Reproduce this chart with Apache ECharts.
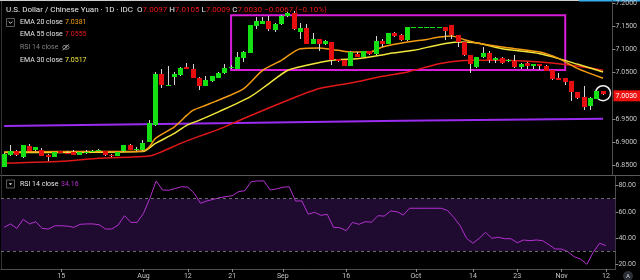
<!DOCTYPE html>
<html><head><meta charset="utf-8">
<script src="https://cdn.jsdelivr.net/npm/echarts@6/dist/echarts.min.js"></script>
<style>html,body{margin:0;padding:0;background:#000;overflow:hidden}#c{width:640px;height:280px}</style>
</head><body><div id="c"></div>
<script>
// ---------- data ----------
const categories = [
 '07-02','07-03','07-04','07-05','07-08','07-09','07-10','07-11','07-12','07-15','07-16','07-17','07-18','07-19','07-22','07-23','07-24','07-25','07-26','07-29','07-30','07-31',
 '08-01','08-02','08-05','08-06','08-07','08-08','08-09','08-12','08-13','08-14','08-15','08-16','08-19','08-20','08-21','08-22','08-23','08-26','08-27','08-28','08-29','08-30',
 '09-02','09-03','09-04','09-05','09-06','09-09','09-10','09-11','09-12','09-13','09-16','09-17','09-18','09-19','09-20','09-23','09-24','09-25','09-26','09-27','09-30',
 '10-01','10-02','10-03','10-04','10-07','10-08','10-09','10-10','10-11','10-14','10-15','10-16','10-17','10-18','10-21','10-22','10-23','10-24','10-25','10-28','10-29','10-30','10-31',
 '11-01','11-04','11-05','11-06','11-07','11-08','11-11','11-12','11-13'];
const tickLabels = {'07-15':'15','08-01':'Aug','08-12':'12','08-21':'21','09-02':'Sep','09-16':'16','10-01':'Oct','10-14':'14','10-23':'23','11-01':'Nov','11-12':'12'};

const opens = [6.8457,6.8716,6.8809,6.8673,6.8917,6.8818,6.8824,6.8723,6.8673,6.8803,6.8770,6.8781,6.8723,6.8772,6.8792,6.8825,6.8796,6.8720,6.8701,6.8796,6.8939,6.8840,
 6.8818,6.9004,6.9364,7.0466,7.0220,7.0400,7.0440,7.0620,7.0570,7.0390,7.0220,7.0320,7.0390,7.0490,7.0620,7.0580,7.0820,7.0926,7.1510,7.1560,7.1630,7.1420,
 7.1550,7.1720,7.1790,7.1390,7.1470,7.1130,7.1220,7.1120,7.1160,7.0790,7.0770,7.0650,7.0900,7.0840,7.0960,7.0900,7.1190,7.1130,7.1350,7.1320,7.1200,
 7.1480,7.1480,7.1480,7.1480,7.1480,7.1480,7.1530,7.1310,7.1160,7.0880,7.0620,7.0830,7.0930,7.0770,7.0810,7.0765,7.0750,7.0620,7.0710,7.0650,7.0680,7.0650,7.0550,
 7.0390,7.0380,7.0310,7.0080,6.9980,6.9780,6.9940,7.0097];
const closes = [6.8738,6.8803,6.8710,6.8926,6.8809,6.8883,6.8701,6.8680,6.8781,6.8753,6.8768,6.8723,6.8781,6.8775,6.8810,6.8830,6.8710,6.8715,6.8781,6.8939,6.8831,6.8845,
 6.8976,6.9401,7.0466,7.0230,7.0225,7.0470,7.0610,7.0590,7.0390,7.0210,7.0340,7.0420,7.0500,7.0610,7.0625,7.0830,7.0950,7.1525,7.1630,7.1630,7.1440,7.1560,
 7.1720,7.1790,7.1440,7.1470,7.1130,7.1220,7.1130,7.1190,7.0780,7.0750,7.0650,7.0940,7.0840,7.0960,7.0900,7.1180,7.1130,7.1350,7.1300,7.1200,7.1480,
 7.1480,7.1480,7.1480,7.1480,7.1480,7.1410,7.1310,7.1160,7.0880,7.0680,7.0830,7.0930,7.0770,7.0810,7.0720,7.0770,7.0620,7.0680,7.0640,7.0680,7.0650,7.0540,7.0360,
 7.0350,7.0290,7.0080,6.9950,6.9760,6.9960,7.0100,7.0030];
const lows = [6.8450,6.8700,6.8690,6.8660,6.8800,6.8810,6.8690,6.8580,6.8670,6.8750,6.8735,6.8720,6.8720,6.8738,6.8780,6.8810,6.8700,6.8670,6.8690,6.8790,6.8820,6.8796,
 6.8810,6.8990,6.9350,7.0160,7.0210,7.0240,7.0430,7.0580,7.0380,7.0130,7.0210,7.0300,7.0380,7.0480,7.0580,7.0570,7.0740,7.0920,7.1450,7.1550,7.1400,7.1380,
 7.1540,7.1710,7.1430,7.1240,7.1120,7.1120,7.0980,7.1110,7.0660,7.0740,7.0640,7.0640,7.0830,7.0830,7.0890,7.0890,7.1050,7.1120,7.1270,7.1190,7.1190,
 7.1480,7.1480,7.1480,7.1480,7.1480,7.1210,7.1230,7.1060,7.0870,7.0490,7.0610,7.0820,7.0720,7.0710,7.0690,7.0730,7.0610,7.0570,7.0570,7.0570,7.0560,7.0530,7.0340,
 7.0340,7.0240,6.9880,6.9940,6.9690,6.9690,6.9930,7.0009];
const highs = [6.8750,6.8939,6.8820,6.8940,6.8954,6.8890,6.8868,6.8730,6.8790,6.8810,6.8795,6.8818,6.8790,6.8818,6.8820,6.8845,6.8800,6.8740,6.8790,6.8940,6.8945,6.8883,
 6.9040,6.9473,7.0520,7.0570,7.0640,7.0520,7.0620,7.0700,7.0680,7.0400,7.0420,7.0430,7.0510,7.0680,7.0660,7.0950,7.0960,7.1540,7.1700,7.1700,7.1720,7.1580,
 7.1740,7.1810,7.1830,7.1570,7.1550,7.1360,7.1230,7.1200,7.1170,7.0800,7.0780,7.0960,7.0940,7.0970,7.0970,7.1290,7.1220,7.1360,7.1380,7.1330,7.1490,
 7.1480,7.1480,7.1480,7.1480,7.1480,7.1490,7.1540,7.1320,7.1170,7.0890,7.0840,7.1060,7.0960,7.0830,7.0830,7.0800,7.0880,7.0700,7.0730,7.0690,7.0690,7.0660,7.0560,
 7.0500,7.0390,7.0320,7.0090,7.0210,6.9970,7.0110,7.0105];

// [candle index, value]
const ema20Pts = [[0,6.8781],[9,6.8792],[18,6.8792],[22,6.8803],[23,6.8889],[24,6.9077],[27,6.9328],[29,6.9580],[30,6.9689],[32,6.9796],[34,6.9905],[38,7.0157],[41,7.0553],[44,7.0769],[47,7.1021],[50,7.1034],[53,7.0985],[55,7.0948],[58,7.0948],[60,7.1056],[64,7.1164],[67,7.1222],[69,7.1272],[71,7.1298],[73,7.1216],[75,7.1142],[79,7.1056],[85,7.0948],[88,7.0805],[91,7.0589],[95,7.0381]];
const ema30Pts = [[0,6.8770],[22,6.8792],[24,6.8969],[27,6.9185],[29,6.9364],[31,6.9473],[34,6.9652],[39,6.9976],[42,7.0265],[45,7.0553],[48,7.0661],[52,7.0769],[56,7.0805],[58,7.0840],[61,7.0913],[65,7.0985],[69,7.1108],[72,7.1164],[75,7.1142],[79,7.1021],[85,7.0913],[88,7.0805],[91,7.0682],[95,7.0517]];
const ema55Pts = [[0,6.8537],[10,6.8587],[15,6.8645],[23,6.8695],[25,6.8788],[28,6.8969],[31,6.9127],[34,6.9272],[38,6.9509],[45,6.9905],[50,7.0157],[55,7.0278],[60,7.0423],[64,7.0516],[67,7.0624],[69,7.0697],[74,7.0769],[79,7.0769],[85,7.0732],[89,7.0676],[95,7.0555]];
const trendPts = [[0,6.9345],[34,6.9405],[63,6.9460],[95,6.9501]];
const rsi14 = [48.1,50.7,47.3,54.2,50.7,52.4,47.3,46.8,49.3,49.3,49.0,48.1,50.4,50.7,50.7,50.1,46.8,46.8,49.9,57.0,51.9,51.9,
 58.8,70.3,83.6,76.7,76.5,77.8,79.2,78.8,74.2,66.5,68.3,69.5,70.8,71.6,72.3,75.4,76.2,83.1,83.6,83.6,76.7,77.5,
 78.8,79.2,68.3,68.3,58.1,59.6,57.3,58.1,48.1,47.8,45.5,51.9,50.4,52.4,52.0,57.0,56.7,60.6,60.1,57.5,62.7,
 62.7,62.7,62.7,62.7,62.7,61.0,55.6,49.3,39.7,35.9,39.7,44.3,39.7,40.5,39.4,39.4,36.3,38.4,37.9,38.4,37.9,34.8,31.5,
 31.5,29.4,25.6,23.8,19.8,29.0,35.9,34.16];
const boxStart = 36, boxEnd = 89, boxTop = 7.1744, boxBottom = 7.0557;
const priceTicks = [6.85, 6.90, 6.95, 7.05, 7.10, 7.15, 7.20];
const rsiTicks = [20, 40, 60, 80];

// ---------- chart ----------
const FONT = 'Roboto, "Liberation Sans", sans-serif';
const UP = '#14e014', DOWN = '#e60e0e', WICK = '#d6d6d6';
const candleData = opens.map((o, i) => [i, o, closes[i], lows[i], highs[i]]);
const last = closes.length - 1;

function renderCandle(params, api) {
  const i = api.value(0), o = api.value(1), c = api.value(2), l = api.value(3), h = api.value(4);
  const pO = api.coord([i, o]), pC = api.coord([i, c]), pL = api.coord([i, l]), pH = api.coord([i, h]);
  const left = Math.round(pO[0] - 2.5);
  const wx = left + 2.5;
  let top = Math.round(Math.min(pO[1], pC[1]));
  let bot = Math.round(Math.max(pO[1], pC[1]));
  if (bot - top < 1) bot = top + 1;
  const col = c >= o ? UP : DOWN;
  return { type: 'group', children: [
    { type: 'line', shape: { x1: wx, y1: Math.round(pH[1]), x2: wx, y2: Math.round(pL[1]) }, style: { stroke: WICK, lineWidth: 1 } },
    { type: 'rect', shape: { x: left, y: top, width: 5, height: bot - top }, style: { fill: col } }
  ]};
}

const tickFn = (idx, val) => tickLabels[val] !== undefined;
const LF = '7px ' + FONT;

const option = {
  backgroundColor: '#000',
  animation: false,
  textStyle: { fontFamily: FONT },
  grid: [
    { left: 1, right: 24.6, top: 0, height: 175 },
    { left: 1, right: 24.6, top: 176, height: 93 }
  ],
  xAxis: [
    { type: 'category', gridIndex: 0, data: categories, boundaryGap: true,
      axisLine: { show: false }, axisTick: { show: false }, axisLabel: { show: false }, splitLine: { show: false } },
    { type: 'category', gridIndex: 1, data: categories, boundaryGap: true,
      axisLine: { show: true, lineStyle: { color: '#4d4d4d' } },
      axisTick: { show: true, alignWithLabel: true, interval: tickFn, length: 3, lineStyle: { color: '#8a8a8a' } },
      axisLabel: { interval: tickFn, formatter: v => tickLabels[v] || '', color: '#c4c4c4', fontSize: 7, margin: 4, fontFamily: FONT },
      splitLine: { show: false } }
  ],
  yAxis: [
    { type: 'value', gridIndex: 0, position: 'right', min: 6.8284, max: 7.2065, scale: true,
      splitLine: { show: false },
      axisLine: { show: true, lineStyle: { color: '#4d4d4d' } },
      axisTick: { show: true, length: 3, customValues: priceTicks, lineStyle: { color: '#8a8a8a' } },
      axisLabel: { customValues: priceTicks, formatter: v => v.toFixed(4), color: '#c4c4c4', fontSize: 7, margin: 3, fontFamily: FONT } },
    { type: 'value', gridIndex: 1, position: 'right', min: 16.2, max: 87.4,
      splitLine: { show: false },
      axisLine: { show: true, lineStyle: { color: '#4d4d4d' } },
      axisTick: { show: true, length: 3, customValues: rsiTicks, lineStyle: { color: '#8a8a8a' } },
      axisLabel: { customValues: rsiTicks, formatter: v => v.toFixed(2), color: '#c4c4c4', fontSize: 7, margin: 3, fontFamily: FONT } }
  ],
  series: [
    { name: 'trend', type: 'line', xAxisIndex: 0, yAxisIndex: 0, data: trendPts, symbol: 'none',
      lineStyle: { color: '#9a2cf0', width: 2 }, z: 2 },
    { name: 'EMA 55', type: 'line', xAxisIndex: 0, yAxisIndex: 0, data: ema55Pts, symbol: 'none', smooth: 0.25,
      lineStyle: { color: '#e01818', width: 1.5 }, z: 3 },
    { name: 'EMA 30', type: 'line', xAxisIndex: 0, yAxisIndex: 0, data: ema30Pts, symbol: 'none', smooth: 0.25,
      lineStyle: { color: '#f2e63a', width: 1.5 }, z: 3 },
    { name: 'EMA 20', type: 'line', xAxisIndex: 0, yAxisIndex: 0, data: ema20Pts, symbol: 'none', smooth: 0.25,
      lineStyle: { color: '#f39c12', width: 1.5 }, z: 3 },
    { name: 'USDCNY', type: 'custom', xAxisIndex: 0, yAxisIndex: 0, data: candleData, renderItem: renderCandle,
      encode: { x: 0, y: [1, 2, 3, 4] }, clip: true, z: 5 },
    { name: 'drawings', type: 'line', xAxisIndex: 0, yAxisIndex: 0, data: [], symbol: 'none', z: 6,
      markArea: { silent: true, itemStyle: { color: 'rgba(0,0,0,0)', borderColor: '#d81ed8', borderWidth: 2 },
        data: [[{ coord: [categories[boxStart], boxTop] }, { coord: [categories[boxEnd], boxBottom] }]] },
      markPoint: { silent: true, symbol: 'circle', symbolSize: 15, label: { show: false },
        itemStyle: { color: 'rgba(0,0,0,0)', borderColor: '#f2f2f2', borderWidth: 1.5 },
        data: [{ coord: [categories[last], (highs[last] + lows[last]) / 2] }] },
      markLine: { silent: true, symbol: 'none', lineStyle: { color: 'rgba(0,0,0,0)', width: 0 },
        data: [{ yAxis: closes[last] }],
        label: { show: true, position: 'end', distance: 1, formatter: () => closes[last].toFixed(4),
          backgroundColor: '#f01010', color: '#fff', fontSize: 7, padding: [2, 3, 2, 2], fontFamily: FONT } } },
    { name: 'RSI 14', type: 'line', xAxisIndex: 1, yAxisIndex: 1, data: rsi14, symbol: 'none',
      lineStyle: { color: '#b530d2', width: 1 }, z: 4,
      markArea: { silent: true, itemStyle: { color: '#1e0b2f' }, data: [[{ yAxis: 30 }, { yAxis: 70 }]] },
      markLine: { silent: true, symbol: 'none', label: { show: false },
        lineStyle: { color: '#6e6e6e', type: [3, 3], width: 1 },
        data: [{ yAxis: 70 }, { yAxis: 30 }] } }
  ],
  graphic: [
    { type: 'rect', shape: { x: 0, y: 0, width: 579, height: 1 }, style: { fill: '#cfcfcf' }, silent: true },
    { type: 'rect', shape: { x: 579, y: 0, width: 61, height: 1.5 }, style: { fill: '#35aef0' }, silent: true },
    { type: 'line', shape: { x1: 0, y1: 175.5, x2: 640, y2: 175.5 }, style: { stroke: '#5c5c5c', lineWidth: 1 }, silent: true },
    { type: 'line', shape: { x1: 1.5, y1: 1, x2: 1.5, y2: 269 }, style: { stroke: '#333', lineWidth: 1 }, silent: true, z: 0 },
    { type: 'text', x: 6, y: 10, style: { text: '{t|U.S. Dollar / Chinese Yuan · 1D · IDC}  {k|O}{v|7.0097} {k|H}{v|7.0105} {k|L}{v|7.0009} {k|C}{v|7.0030} {v|−0.0067 (−0.10%)}',
        verticalAlign: 'middle', textVerticalAlign: 'middle', font: '8px ' + FONT,
        rich: { t: { fill: '#e6e6e6', fontSize: 8, fontFamily: FONT }, k: { fill: '#e6e6e6', fontSize: 8, fontFamily: FONT }, v: { fill: '#f01818', fontSize: 8, fontFamily: FONT } } }, z: 20 },
    { type: 'rect', shape: { x: 6.5, y: 18.5, width: 8, height: 8 }, style: { fill: 'rgba(0,0,0,0)', stroke: '#5c5c5c', lineWidth: 1 }, z: 20 },
    { type: 'polyline', shape: { points: [[8.7, 21.5], [10.5, 23.3], [12.3, 21.5]] }, style: { stroke: '#dcdcdc', lineWidth: 1, fill: null }, z: 20 },
    { type: 'text', x: 20, y: 22.7, style: { text: 'EMA 20 close', fill: '#e6e6e6', font: LF, verticalAlign: 'middle', textVerticalAlign: 'middle' }, z: 20 },
    { type: 'text', x: 65, y: 22.7, style: { text: '7.0381', fill: '#f39c12', font: LF, verticalAlign: 'middle', textVerticalAlign: 'middle' }, z: 20 },
    { type: 'text', x: 20, y: 34.7, style: { text: 'EMA 55 close', fill: '#e6e6e6', font: LF, verticalAlign: 'middle', textVerticalAlign: 'middle' }, z: 20 },
    { type: 'text', x: 65, y: 34.7, style: { text: '7.0555', fill: '#ee1c1c', font: LF, verticalAlign: 'middle', textVerticalAlign: 'middle' }, z: 20 },
    { type: 'text', x: 20, y: 47.3, style: { text: 'RSI 14 close', fill: '#808080', font: LF, verticalAlign: 'middle', textVerticalAlign: 'middle' }, z: 20 },
    { type: 'circle', shape: { cx: 65.8, cy: 47.3, r: 3.3 }, scaleY: 0.6, originX: 65.8, originY: 47.3, style: { fill: 'rgba(0,0,0,0)', stroke: '#9a9a9a', lineWidth: 1 }, z: 20 },
    { type: 'circle', shape: { cx: 65.8, cy: 47.3, r: 1 }, style: { fill: '#9a9a9a' }, z: 20 },
    { type: 'line', shape: { x1: 62.5, y1: 50.3, x2: 69, y2: 44.3 }, style: { stroke: '#9a9a9a', lineWidth: 1 }, z: 20 },
    { type: 'text', x: 20, y: 60, style: { text: 'EMA 30 close', fill: '#e6e6e6', font: LF, verticalAlign: 'middle', textVerticalAlign: 'middle' }, z: 20 },
    { type: 'text', x: 65, y: 60, style: { text: '7.0517', fill: '#f2e63a', font: LF, verticalAlign: 'middle', textVerticalAlign: 'middle' }, z: 20 },
    { type: 'rect', shape: { x: 6.5, y: 180, width: 8, height: 8 }, style: { fill: 'rgba(0,0,0,0)', stroke: '#5c5c5c', lineWidth: 1 }, z: 20 },
    { type: 'polygon', shape: { points: [[8.8, 183.2], [12.2, 183.2], [10.5, 185.2]] }, style: { fill: '#dcdcdc' }, z: 20 },
    { type: 'text', x: 20, y: 184, style: { text: 'RSI 14 close', fill: '#e6e6e6', font: LF, verticalAlign: 'middle', textVerticalAlign: 'middle' }, z: 20 },
    { type: 'text', x: 61, y: 184, style: { text: '34.16', fill: '#b530d2', font: LF, verticalAlign: 'middle', textVerticalAlign: 'middle' }, z: 20 },
    { type: 'circle', shape: { cx: 628, cy: 276, r: 5 }, style: { fill: '#2c2f36' }, z: 20 },
    { type: 'text', x: 628, y: 276.3, style: { text: 'A', fill: '#d0d0d0', font: '6px ' + FONT, align: 'center', textAlign: 'center', verticalAlign: 'middle', textVerticalAlign: 'middle' }, z: 21 }
  ]
};

const chart = echarts.init(document.getElementById('c'), null, { renderer: 'canvas' });
chart.setOption(option);
</script></body></html>
